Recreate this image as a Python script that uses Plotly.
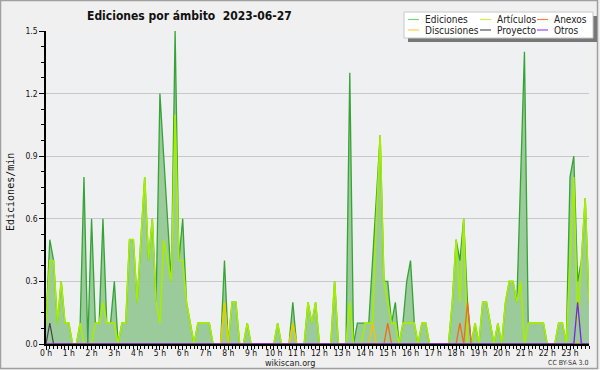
import plotly.graph_objects as go

# ---- data (10-minute steps, 144 per day), values in edits/min ----
hours = list(range(24))
hour_labels = [f"{h} h" for h in hours]

ediciones = [
    0.1, 0.5, 0.4, 0.1, 0.3, 0.1,
    0.1, 0.0, 0.0, 0.1, 0.8, 0.0,
    0.6, 0.1, 0.1, 0.6, 0.1, 0.1,
    0.3, 0.0, 0.1, 0.1, 0.5, 0.5,
    0.2, 0.5, 0.8, 0.4, 0.6, 0.2,
    1.2, 0.9, 0.6, 0.3, 1.5, 0.4,
    0.6, 0.2, 0.1, 0.0, 0.1, 0.1,
    0.1, 0.1, 0.0, 0.0, 0.0, 0.4,
    0.0, 0.2, 0.2, 0.0, 0.0, 0.1,
    0.0, 0.0, 0.0, 0.0, 0.0, 0.0,
    0.0, 0.1, 0.0, 0.0, 0.0, 0.2,
    0.0, 0.0, 0.0, 0.2, 0.1, 0.2,
    0.0, 0.0, 0.0, 0.0, 0.3, 0.0,
    0.0, 0.0, 1.3, 0.0, 0.1, 0.1,
    0.1, 0.1, 0.4, 0.7, 1.0, 0.3,
    0.3, 0.1, 0.2, 0.0, 0.1, 0.3,
    0.4, 0.1, 0.0, 0.1, 0.1, 0.0,
    0.0, 0.0, 0.0, 0.0, 0.0, 0.2,
    0.5, 0.4, 0.6, 0.2, 0.0, 0.1,
    0.0, 0.2, 0.2, 0.1, 0.0, 0.1,
    0.0, 0.2, 0.3, 0.3, 0.2, 0.8,
    1.4, 0.1, 0.1, 0.1, 0.1, 0.1,
    0.0, 0.0, 0.0, 0.1, 0.1, 0.0,
    0.8, 0.9, 0.3, 0.4, 0.7, 0.2,
]

articulos = [
    0.1, 0.4, 0.4, 0.1, 0.3, 0.1,
    0.1, 0.0, 0.0, 0.1, 0.0, 0.0,
    0.0, 0.1, 0.1, 0.2, 0.1, 0.1,
    0.1, 0.0, 0.1, 0.1, 0.5, 0.5,
    0.2, 0.5, 0.8, 0.4, 0.6, 0.2,
    0.1, 0.5, 0.4, 0.3, 1.1, 0.4,
    0.4, 0.2, 0.1, 0.0, 0.1, 0.1,
    0.1, 0.1, 0.0, 0.0, 0.0, 0.2,
    0.0, 0.2, 0.2, 0.0, 0.0, 0.1,
    0.0, 0.0, 0.0, 0.0, 0.0, 0.0,
    0.0, 0.1, 0.0, 0.0, 0.0, 0.1,
    0.0, 0.0, 0.0, 0.2, 0.1, 0.2,
    0.0, 0.0, 0.0, 0.0, 0.3, 0.0,
    0.0, 0.0, 0.2, 0.0, 0.0, 0.0,
    0.1, 0.1, 0.1, 0.6, 1.0, 0.3,
    0.2, 0.1, 0.1, 0.0, 0.1, 0.1,
    0.1, 0.1, 0.0, 0.1, 0.1, 0.0,
    0.0, 0.0, 0.0, 0.0, 0.0, 0.2,
    0.5, 0.2, 0.6, 0.0, 0.0, 0.1,
    0.0, 0.2, 0.2, 0.1, 0.0, 0.1,
    0.0, 0.2, 0.3, 0.3, 0.2, 0.3,
    0.0, 0.1, 0.1, 0.1, 0.1, 0.1,
    0.0, 0.0, 0.0, 0.1, 0.1, 0.0,
    0.4, 0.8, 0.1, 0.4, 0.7, 0.2,
]

# sparse series: {slot index: value}
discusiones_pts = {47: 0.2, 65: 0.1, 86: 0.1}
anexos_pts = {90: 0.1, 109: 0.1, 111: 0.2}
proyecto_pts = {1: 0.1}
otros_pts = {140: 0.2}

N = len(ediciones)
x_hours = [i / 6 for i in range(N)]


def dense(pts):
    return [pts.get(i, 0.0) for i in range(N)]


discusiones = dense(discusiones_pts)
anexos = dense(anexos_pts)
proyecto = dense(proyecto_pts)
otros = dense(otros_pts)

# ---- geometry helpers (pixel -> paper) ----
L, R, T, B = 46, 589, 31, 344
W, H = 600, 370


def px(x):
    return (x - L) / (R - L)


def py(y):
    return (B - y) / (B - T)


FONT = "DejaVu Sans Condensed, DejaVu Sans"

fig = go.Figure()
fig.add_trace(go.Scatter(x=x_hours, y=ediciones, mode="lines", fill="tozeroy",
                         fillcolor="rgba(150,200,150,0.95)",
                         line=dict(color="#36a336", width=1.3), name="Ediciones",
                         showlegend=False))
fig.add_trace(go.Scatter(x=x_hours, y=articulos, mode="lines",
                         line=dict(color="#a6ee00", width=1.6), name="Artículos",
                         showlegend=False))
fig.add_trace(go.Scatter(x=x_hours, y=anexos, mode="lines",
                         line=dict(color="#f26a1a", width=1.3), name="Anexos",
                         showlegend=False))
fig.add_trace(go.Scatter(x=x_hours, y=discusiones, mode="lines",
                         line=dict(color="#f5c400", width=1.3), name="Discusiones",
                         showlegend=False))
fig.add_trace(go.Scatter(x=x_hours, y=proyecto, mode="lines",
                         line=dict(color="#444444", width=1.2), name="Proyecto",
                         showlegend=False))
fig.add_trace(go.Scatter(x=x_hours, y=otros, mode="lines",
                         line=dict(color="#7a22f0", width=1.3), name="Otros",
                         showlegend=False))

shapes = []
annotations = []

# outer frame
shapes.append(dict(type="rect", xref="paper", yref="paper",
                   x0=px(0.5), x1=px(597.5), y0=py(368.5), y1=py(0.5),
                   line=dict(color="#a0a0a0", width=1.5), layer="below"))

# legend (drawn manually to match the compact layout)
leg_names = ["Ediciones", "Artículos", "Anexos", "Discusiones", "Proyecto", "Otros"]
leg_colors = ["#7fcf7f", "#c6f24a", "#f4834a", "#f8d04a", "#555555", "#9a4af2"]
col_x = [408, 480, 537]
row_y = [19.5, 30]
shapes.append(dict(type="rect", xref="paper", yref="paper",
                   x0=px(408), x1=px(597), y0=py(42), y1=py(16),
                   fillcolor="#777777", line=dict(width=0)))
shapes.append(dict(type="rect", xref="paper", yref="paper",
                   x0=px(404), x1=px(593), y0=py(38), y1=py(12),
                   fillcolor="white", line=dict(color="#c8c8c8", width=1)))
for k, (nm, col) in enumerate(zip(leg_names, leg_colors)):
    r, c = divmod(k, 3)
    x0 = col_x[c]
    y0 = row_y[r]
    shapes.append(dict(type="line", xref="paper", yref="paper",
                       x0=px(x0), x1=px(x0 + 11), y0=py(y0), y1=py(y0),
                       line=dict(color=col, width=1.2)))
    annotations.append(dict(text=nm, xref="paper", yref="paper",
                            x=px(x0 + 15), y=py(y0), xanchor="left", yanchor="middle",
                            showarrow=False, font=dict(family=FONT, size=10, color="#222")))

# title
annotations.append(dict(text="<b>Ediciones por ámbito  2023-06-27</b>", xref="paper", yref="paper",
                        x=px(85), y=py(16), xanchor="left", yanchor="middle", showarrow=False,
                        font=dict(family=FONT, size=12, color="#111")))
# y title
annotations.append(dict(text="Ediciones/min", xref="paper", yref="paper",
                        x=px(10), y=py(192), xanchor="center", yanchor="middle", textangle=-90,
                        showarrow=False, font=dict(family="DejaVu Sans Mono", size=10, color="#111")))
# footer
annotations.append(dict(text="wikiscan.org", xref="paper", yref="paper",
                        x=px(290), y=py(362.5), xanchor="center", yanchor="middle",
                        showarrow=False, font=dict(family=FONT, size=9, color="#222")))
annotations.append(dict(text="CC BY-SA 3.0", xref="paper", yref="paper",
                        x=px(590), y=py(362.5), xanchor="right", yanchor="middle",
                        showarrow=False, font=dict(family=FONT, size=7, color="#333")))

fig.update_layout(
    width=W, height=H,
    margin=dict(l=L, r=W - R, t=T, b=H - B, autoexpand=False),
    paper_bgcolor="#f0f0f0",
    plot_bgcolor="#eef0f1",
    shapes=shapes,
    annotations=annotations,
    showlegend=False,
    font=dict(family=FONT, size=9, color="#111"),
)
fig.update_xaxes(
    automargin=False,
    range=[0, (N - 1) / 6],
    tickvals=hours, ticktext=hour_labels,
    ticks="outside", ticklen=4, tickcolor="black", tickwidth=1,
    ticklabelstandoff=-4,
    minor=dict(dtick=1 / 6, ticks="outside", ticklen=3, tickcolor="black", showgrid=False),
    showline=True, linecolor="black", linewidth=1.5,
    showgrid=False, zeroline=False,
    tickfont=dict(family=FONT, size=8.5),
)
fig.update_yaxes(
    automargin=False,
    range=[0, 1.5],
    tickvals=[0, 0.3, 0.6, 0.9, 1.2, 1.5], tickformat=".1f",
    ticks="outside", ticklen=5, tickcolor="black",
    minor=dict(dtick=0.075, ticks="outside", ticklen=3, tickcolor="black", showgrid=False),
    showline=True, linecolor="black", linewidth=1.5,
    showgrid=True, gridcolor="#c8c8c8", gridwidth=1, zeroline=False,
    tickfont=dict(family=FONT, size=8.5),
)

fig.write_html("out.html", config={"displayModeBar": False},
               post_script="document.body.style.margin='0';document.body.style.padding='0';")
